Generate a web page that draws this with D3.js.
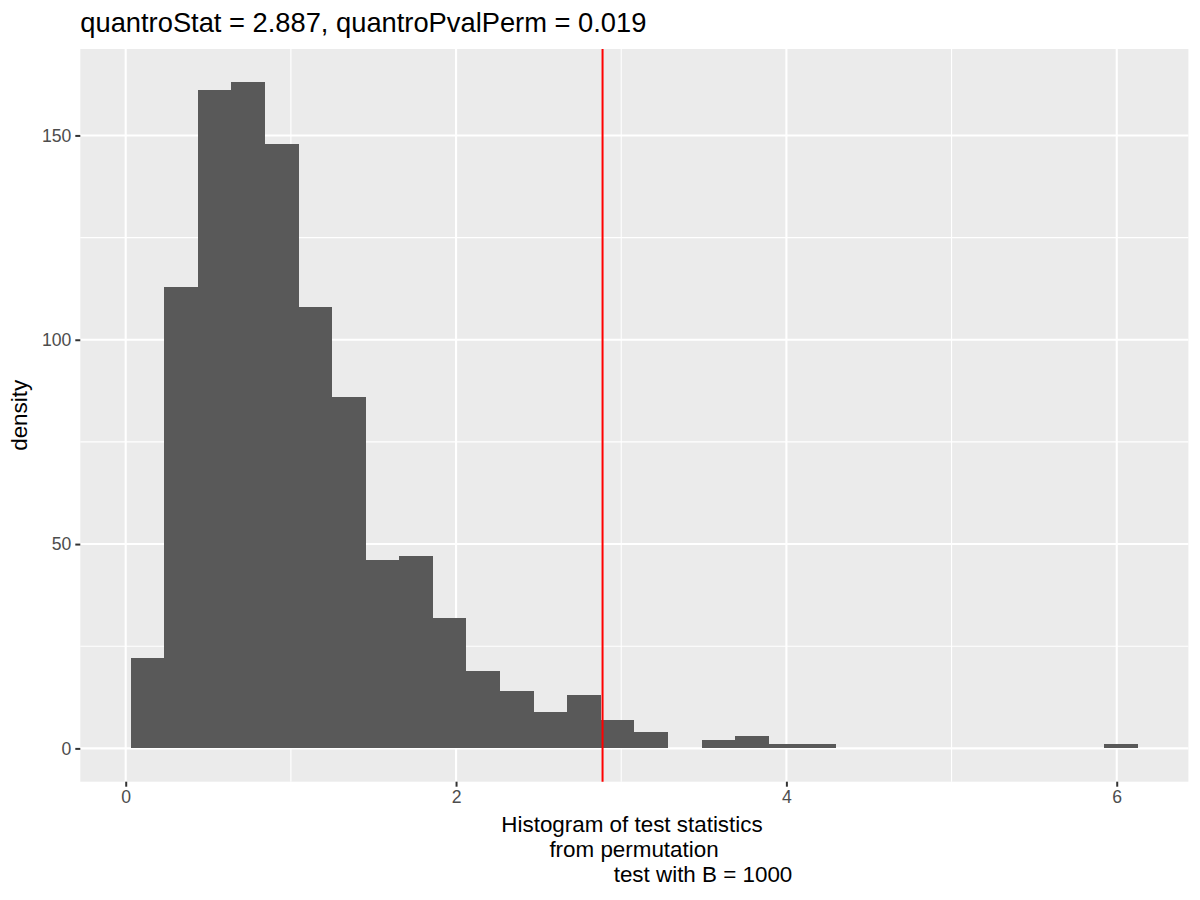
<!DOCTYPE html>
<html>
<head>
<meta charset="utf-8">
<script src="https://cdn.jsdelivr.net/npm/d3@7"></script>
<style>
  body { margin: 0; background: #fff; }
  text { font-family: "Liberation Sans", Arial, sans-serif; }
</style>
</head>
<body>
<div id="chart"></div>
<script>
// histogram counts (30 bins)
const counts = [22, 113, 161, 163, 148, 108, 86, 46, 47, 32,
                19, 14, 9, 13, 7, 4, 0, 2, 3, 1,
                1, 0, 0, 0, 0, 0, 0, 0, 0, 1];
const binStart = 0.030;
const binWidth = 0.2033;
const statValue = 2.887;
const xTicks = [0, 2, 4, 6];
const xMinor = [1, 3, 5];
const yTicks = [0, 50, 100, 150];
const yMinor = [25, 75, 125];
const titleText = "quantroStat = 2.887, quantroPvalPerm = 0.019";
const xLabelLines = ["Histogram of test statistics", "from permutation", "test with B = 1000"];
const yLabel = "density";

const svgWidth = 1200, svgHeight = 900;
const margin = { top: 49, right: 11.6, bottom: 118.3, left: 80.3 };
const width = svgWidth - margin.left - margin.right;
const height = svgHeight - margin.top - margin.bottom;

const bins = counts.map((c, i) => ({
  x0: binStart + i * binWidth,
  x1: binStart + (i + 1) * binWidth,
  count: c
}));

const svg = d3.select("#chart")
  .append("svg")
  .attr("width", svgWidth)
  .attr("height", svgHeight);

const g = svg.append("g")
  .attr("transform", `translate(${margin.left}, ${margin.top})`);

// ggplot style 5% expansion
const xLo = bins[0].x0, xHi = bins[bins.length - 1].x1;
const xPad = 0.05 * (xHi - xLo);
const x = d3.scaleLinear().domain([xLo - xPad, xHi + xPad]).range([0, width]);
const yMax = d3.max(counts);
const y = d3.scaleLinear().domain([-0.05 * yMax, yMax * 1.05]).range([height, 0]);

// panel background
g.append("rect")
  .attr("width", width)
  .attr("height", height)
  .attr("fill", "#EBEBEB");

// minor grid
g.selectAll(".xminor").data(xMinor).join("line")
  .attr("x1", d => x(d)).attr("x2", d => x(d))
  .attr("y1", 0).attr("y2", height)
  .attr("stroke", "#fff").attr("stroke-width", 1.1);
g.selectAll(".yminor").data(yMinor).join("line")
  .attr("y1", d => y(d)).attr("y2", d => y(d))
  .attr("x1", 0).attr("x2", width)
  .attr("stroke", "#fff").attr("stroke-width", 1.1);

// major grid
g.selectAll(".xmajor").data(xTicks).join("line")
  .attr("x1", d => x(d)).attr("x2", d => x(d))
  .attr("y1", 0).attr("y2", height)
  .attr("stroke", "#fff").attr("stroke-width", 2.1);
g.selectAll(".ymajor").data(yTicks).join("line")
  .attr("y1", d => y(d)).attr("y2", d => y(d))
  .attr("x1", 0).attr("x2", width)
  .attr("stroke", "#fff").attr("stroke-width", 2.1);

// bars
g.selectAll(".bar").data(bins.filter(b => b.count > 0)).join("rect")
  .attr("x", d => x(d.x0))
  .attr("width", d => x(d.x1) - x(d.x0))
  .attr("y", d => y(d.count))
  .attr("height", d => y(0) - y(d.count))
  .attr("fill", "#595959")
  .attr("shape-rendering", "crispEdges");

// observed statistic
g.append("line")
  .attr("x1", x(statValue)).attr("x2", x(statValue))
  .attr("y1", 0).attr("y2", height)
  .attr("stroke", "red").attr("stroke-width", 2);

// axes
const bottomAxis = d3.axisBottom(x).tickValues(xTicks).tickSize(5).tickPadding(4).tickFormat(d3.format("d"));
const leftAxis = d3.axisLeft(y).tickValues(yTicks).tickSize(5).tickPadding(4).tickFormat(d3.format("d"));

const xAxisG = g.append("g")
  .attr("transform", `translate(0, ${height})`)
  .call(bottomAxis);
const yAxisG = g.append("g").call(leftAxis);

[xAxisG, yAxisG].forEach(a => {
  a.select(".domain").remove();
  a.selectAll(".tick line").attr("stroke", "#333333").attr("stroke-width", 2);
  a.selectAll(".tick text")
    .attr("fill", "#4D4D4D")
    .style("font-size", "17.6px")
    .style("font-family", "'Liberation Sans', Arial, sans-serif");
});

// title
svg.append("text")
  .attr("x", margin.left)
  .attr("y", 32)
  .style("font-size", "27.3px")
  .attr("fill", "#000")
  .text(titleText);

// x label (three lines, last one pushed right as in the original)
const xLabelCenters = [632, 634, 703];
svg.selectAll(".xlab").data(xLabelLines).join("text")
  .attr("x", (d, i) => xLabelCenters[i])
  .attr("y", (d, i) => 832 + i * 25)
  .attr("text-anchor", "middle")
  .style("font-size", "22.4px")
  .attr("fill", "#000")
  .text(d => d);

// y label
svg.append("text")
  .attr("transform", `translate(27, ${margin.top + height / 2}) rotate(-90)`)
  .attr("text-anchor", "middle")
  .style("font-size", "22.4px")
  .attr("fill", "#000")
  .text(yLabel);
</script>
</body>
</html>
